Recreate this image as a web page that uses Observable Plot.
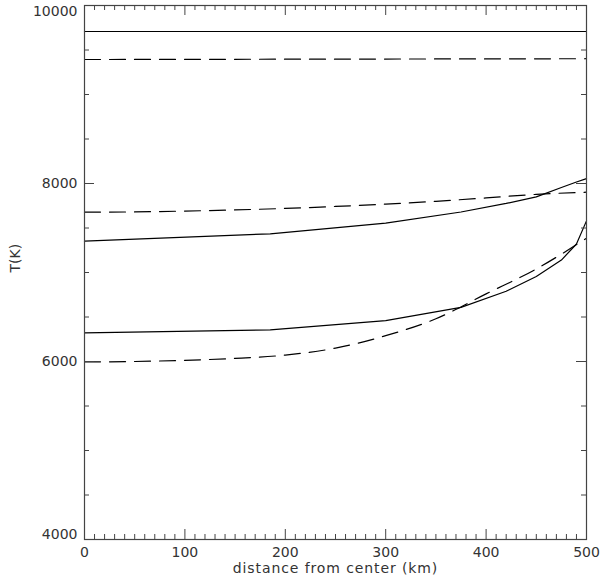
<!DOCTYPE html>
<html>
<head>
<meta charset="utf-8">
<script src="https://cdn.jsdelivr.net/npm/d3@7"></script>
<script src="https://cdn.jsdelivr.net/npm/@observablehq/plot@0.6"></script>
<style>
  html, body { margin: 0; padding: 0; background: #fff; }
</style>
</head>
<body>
<div id="chart"></div>
<script>
// ---- data ----
const xTitle = "distance from center (km)";
const yTitle = "T(K)";

const xMajorTicks = [0, 100, 200, 300, 400, 500];
const yMajorTicks = [4000, 6000, 8000, 10000];

// solid curves
const solidTopX = [0, 500];
const solidTopT = [9708, 9708];
const solidX = [0, 185, 300, 375, 420, 450, 475, 490, 500];
const solidMidT = [7352, 7435, 7555, 7680, 7776, 7850, 7955, 8017, 8055];
const solidLowT = [6322, 6356, 6460, 6608, 6790, 6955, 7140, 7320, 7580];

// dashed curves
const dashTopX = [0, 500];
const dashTopT = [9393, 9402];
const dashX = [0, 50, 100, 150, 200, 250, 300, 350, 400, 450, 500];
const dashMidT = [7678, 7681, 7690, 7703, 7720, 7742, 7768, 7800, 7838, 7878, 7902];
const dashLowT = [5995, 6000, 6013, 6035, 6072, 6150, 6290, 6480, 6760, 7040, 7385];

// ---- build tables ----
const toRows = (xs, ts, id) => xs.map((x, i) => ({x, T: ts[i], id}));
const solidRows = [
  ...toRows(solidTopX, solidTopT, "s1"),
  ...toRows(solidX, solidMidT, "s2"),
  ...toRows(solidX, solidLowT, "s3")
];
const dashRows = [
  ...toRows(dashTopX, dashTopT, "d1"),
  ...toRows(dashX, dashMidT, "d2"),
  ...toRows(dashX, dashLowT, "d3")
];

const xDomain = [0, 500];
const yDomain = [4000, 10000];
const xMinorTicks = d3.range(xDomain[0], xDomain[1] + 1, 10).filter(v => !xMajorTicks.includes(v));
const yMinorTicks = d3.range(yDomain[0], yDomain[1] + 1, 500).filter(v => !yMajorTicks.includes(v));

const W = 600, H = 584;
const mTop = 5, mBottom = 45, mLeft = 84, mRight = 14;
const innerH = H - mTop - mBottom;
const innerW = W - mLeft - mRight;
const majorLen = 10, minorLen = 5;
const axisColor = "#444";
const textColor = "#333";
const FONT = "DejaVu Sans";
const FS = 14;

// IDL-style: the edge labels sit inside the axis range
const yLabelsTop = yMajorTicks.filter(d => d === yDomain[1]);
const yLabelsBottom = yMajorTicks.filter(d => d === yDomain[0]);
const yLabelsMid = yMajorTicks.filter(d => d !== yDomain[0] && d !== yDomain[1]);
const yLabelOpts = {y: d => d, frameAnchor: "left", dx: -7, textAnchor: "end",
  text: d => String(d), fontFamily: FONT, fontSize: FS, fill: textColor};

const chart = Plot.plot({
  width: W,
  height: H,
  marginTop: mTop,
  marginBottom: mBottom,
  marginLeft: mLeft,
  marginRight: mRight,
  style: "background:#fff;",
  x: {domain: xDomain, axis: null},
  y: {domain: yDomain, axis: null},
  marks: [
    // data lines
    Plot.line(solidRows, {x: "x", y: "T", z: "id", stroke: "#000", strokeWidth: 1.2, curve: "linear"}),
    Plot.line(dashRows, {x: "x", y: "T", z: "id", stroke: "#000", strokeWidth: 1.2, curve: "monotone-x", strokeDasharray: "16,9"}),
    // inward ticks: bottom / top
    Plot.tickX(xMajorTicks, {x: d => d, insetTop: innerH - majorLen, stroke: axisColor}),
    Plot.tickX(xMinorTicks, {x: d => d, insetTop: innerH - minorLen, stroke: axisColor}),
    Plot.tickX(xMajorTicks, {x: d => d, insetBottom: innerH - majorLen, stroke: axisColor}),
    Plot.tickX(xMinorTicks, {x: d => d, insetBottom: innerH - minorLen, stroke: axisColor}),
    // inward ticks: left / right
    Plot.tickY(yMajorTicks, {y: d => d, insetRight: innerW - majorLen, stroke: axisColor}),
    Plot.tickY(yMinorTicks, {y: d => d, insetRight: innerW - minorLen, stroke: axisColor}),
    Plot.tickY(yMajorTicks, {y: d => d, insetLeft: innerW - majorLen, stroke: axisColor}),
    Plot.tickY(yMinorTicks, {y: d => d, insetLeft: innerW - minorLen, stroke: axisColor}),
    // tick labels
    Plot.text(xMajorTicks, {x: d => d, frameAnchor: "bottom", dy: 17, text: d => String(d),
      fontFamily: FONT, fontSize: FS, fill: textColor}),
    Plot.text(yLabelsMid, {...yLabelOpts}),
    Plot.text(yLabelsTop, {...yLabelOpts, dy: 6.5}),
    Plot.text(yLabelsBottom, {...yLabelOpts, dy: -5}),
    // titles
    Plot.text([xTitle], {frameAnchor: "bottom", dy: 33.5, text: d => d, fontFamily: FONT, fontSize: FS, fill: textColor}),
    Plot.text([yTitle], {frameAnchor: "left", dx: -69, rotate: -90, text: d => d, fontFamily: FONT, fontSize: FS, fill: textColor}),
    Plot.frame({stroke: axisColor, strokeWidth: 1.2})
  ]
});

// the reference's axis title is set a little wider than DejaVu Sans
chart.querySelectorAll("text").forEach(t => {
  if (t.textContent === xTitle) t.setAttribute("letter-spacing", "0.9");
});

document.getElementById("chart").appendChild(chart);
</script>
</body>
</html>
